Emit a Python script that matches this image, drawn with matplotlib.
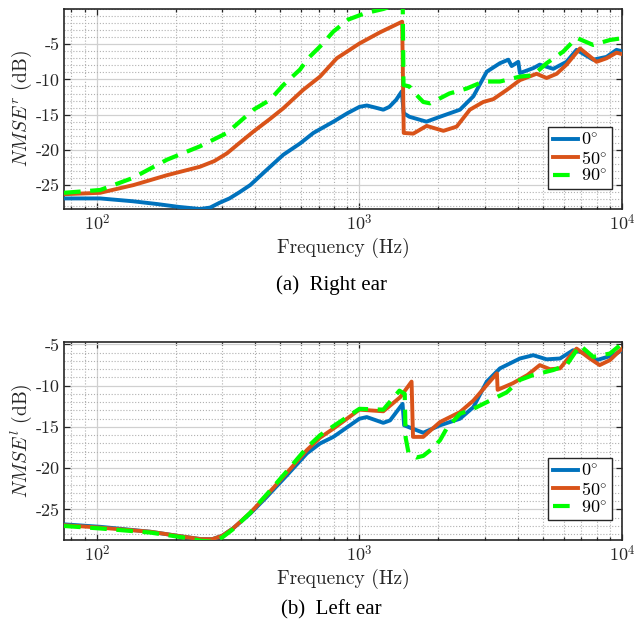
import matplotlib
matplotlib.use('Agg')
import matplotlib.pyplot as plt
import numpy as np

# ---- right ear (a) ----
f_r0 = [75, 103, 137, 170, 205, 247, 270, 294, 320, 350, 384, 445, 513, 594, 668, 796,
        900, 1000, 1067, 1150, 1233, 1300, 1380, 1450, 1475, 1550, 1800, 2028, 2415,
        2716, 3055, 3428, 3690, 3800, 4027, 4086, 4592, 4863, 5470, 6148, 6714, 7762,
        8730, 9530, 10000]
v_r0 = [-26.9, -26.9, -27.3, -27.7, -28.1, -28.4, -28.2, -27.5, -26.9, -26.0, -25.0,
        -22.8, -20.7, -19.1, -17.6, -16.0, -14.8, -13.9, -13.7, -14.0, -14.3, -13.9,
        -12.9, -11.7, -14.8, -15.3, -16.0, -15.3, -14.3, -12.4, -8.9, -7.7, -7.2, -8.1,
        -7.5, -9.1, -8.4, -7.9, -8.5, -7.5, -5.8, -7.2, -6.8, -5.8, -6.0]

f_r50 = [75, 103, 138, 185, 247, 280, 313, 350, 395, 457, 513, 610, 708, 820, 1000,
         1200, 1455, 1475, 1603, 1803, 2089, 2346, 2634, 2963, 3236, 3638, 4086, 4728,
         5164, 5640, 6148, 6918, 8000, 8730, 9530, 10000]
v_r50 = [-26.3, -26.1, -25.0, -23.6, -22.4, -21.6, -20.5, -19.0, -17.4, -15.6, -14.1,
         -11.5, -9.6, -7.0, -4.9, -3.3, -1.8, -17.6, -17.7, -16.6, -17.3, -16.7, -14.3,
         -13.2, -12.8, -11.5, -10.1, -9.2, -9.8, -9.2, -7.9, -5.6, -7.5, -7.0, -6.2, -6.4]

f_r90 = [75, 103, 137, 185, 247, 313, 395, 457, 513, 594, 638, 718, 796, 907, 1050,
         1233, 1350, 1462, 1472, 1550, 1650, 1750, 1860, 2000, 2200, 2560, 2963, 3428,
         4086, 4592, 5164, 5970, 6714, 7762, 8995, 10000]
v_r90 = [-26.1, -25.7, -24.0, -21.4, -19.5, -17.6, -14.3, -12.9, -10.8, -8.6, -7.0,
         -5.1, -3.2, -1.5, -0.6, 0.0, 0.5, 0.8, -10.8, -11.0, -12.2, -13.2, -13.4,
         -12.8, -12.0, -11.3, -10.3, -10.3, -9.6, -9.4, -7.7, -6.05, -4.1, -5.1, -4.4,
         -4.15]

# ---- left ear (b) ----
f_l0 = [75, 103, 160, 214, 250, 275, 300, 330, 384, 443, 528, 631, 708, 796, 1000,
        1067, 1233, 1309, 1460, 1480, 1750, 2028, 2415, 2716, 3055, 3428, 4086, 4592,
        5164, 5808, 6510, 7112, 8000, 9260, 10000]
v_l0 = [-26.8, -27.1, -27.7, -28.3, -28.6, -28.6, -28.2, -27.3, -25.5, -23.5, -20.9,
        -18.2, -17.0, -16.2, -14.0, -13.8, -14.5, -14.2, -12.2, -14.8, -15.7, -14.8,
        -14.0, -12.6, -9.5, -7.9, -6.7, -6.3, -6.8, -6.7, -5.7, -6.0, -6.9, -6.3, -5.7]

f_l50 = [75, 103, 160, 214, 250, 275, 300, 330, 384, 443, 528, 631, 708, 796, 1000,
         1233, 1429, 1580, 1600, 1750, 2028, 2415, 2716, 3340, 3360, 3840, 4365, 4863,
         5320, 5808, 6340, 6714, 7540, 8221, 8995, 10000]
v_l50 = [-26.9, -27.2, -27.7, -28.3, -28.6, -28.6, -28.2, -27.3, -25.4, -23.3, -20.6,
         -17.8, -16.3, -15.2, -12.9, -13.1, -11.4, -9.5, -16.2, -16.2, -14.4, -13.2,
         -11.8, -8.5, -10.5, -9.7, -8.7, -7.5, -8.0, -7.9, -6.4, -5.5, -6.7, -7.5, -6.9,
         -5.5]

f_l90 = [75, 103, 160, 214, 250, 275, 300, 330, 384, 443, 528, 631, 708, 796, 1000,
         1233, 1420, 1488, 1500, 1540, 1650, 1750, 1900, 2028, 2148, 2415, 2716, 3236,
         3638, 4086, 4592, 5470, 6148, 6918, 7762, 8995, 10000]
v_l90 = [-27.0, -27.3, -27.8, -28.4, -28.8, -28.9, -28.4, -27.4, -25.4, -23.2, -20.4,
         -17.5, -16.0, -14.9, -12.8, -12.9, -10.6, -11.0, -16.3, -18.2, -18.7, -18.5,
         -17.6, -16.6, -15.2, -13.4, -12.8, -11.6, -10.8, -9.3, -8.7, -8.1, -7.5, -5.1,
         -6.5, -6.1, -4.9]

labels = [r'$0^{\circ}$', r'$50^{\circ}$', r'$90^{\circ}$']
colors = ['#0072BD', '#D95319', '#00FF00']
y_major = [-25, -20, -15, -10, -5]
y_labels = ['-25', '-20', '-15', '-10', '-5']
x_major = [100, 1000, 10000]
x_labels = [r'$10^2$', r'$10^3$', r'$10^4$']

plt.rcParams['font.family'] = ['cmr10', 'DejaVu Serif']
plt.rcParams['mathtext.fontset'] = 'cm'
plt.rcParams['axes.unicode_minus'] = False
plt.rcParams['axes.formatter.use_mathtext'] = True

fig = plt.figure(figsize=(6.34, 6.27), dpi=100)
ax1 = fig.add_axes([64/634, 1-209/627, 558/634, 200/627])
ax2 = fig.add_axes([64/634, 1-540/627, 558/634, 198/627])


def draw(ax, data, ylim, ylab):
    for (f, v), c, lab in zip(data, colors, labels):
        if c == '#00FF00':
            ax.plot(f, v, color=c, lw=3.0, dashes=(4.0, 2.3), label=lab, zorder=5)
        else:
            ax.plot(f, v, color=c, lw=2.8, label=lab, zorder=4,
                    solid_joinstyle='round')
    ax.set_xscale('log')
    ax.set_xticks(x_major)
    ax.set_xticklabels(x_labels)
    minors = [k * 10**d for d in (1, 2, 3) for k in range(2, 10) if 75 <= k * 10**d <= 10000]
    ax.set_xticks(minors, minor=True)
    ax.set_xticklabels([], minor=True)
    ax.set_yticks(y_major)
    ax.set_yticklabels(y_labels)
    ax.set_yticks(np.arange(-29, 1, 1), minor=True)
    ax.set_xlim(75, 10000)
    ax.set_ylim(*ylim)
    ax.tick_params(which='both', direction='in', top=True, right=True,
                   labelsize=13, colors='#262626', width=0.9)
    ax.tick_params(which='major', length=4, pad=3)
    ax.tick_params(axis='x', which='minor', length=2.5)
    ax.tick_params(axis='y', which='minor', length=0)
    ax.grid(which='major', color='#d0d0d0', lw=0.9)
    ax.grid(which='minor', color='#b0b0b0', ls=':', lw=0.8)
    ax.set_axisbelow(True)
    for s in ax.spines.values():
        s.set_color('#262626')
        s.set_linewidth(1.2)
    ax.set_xlabel('Frequency (Hz)', fontsize=14, color='#262626', labelpad=3)
    ax.set_ylabel(ylab, fontsize=14, color='#262626', labelpad=1)
    leg = ax.legend(loc='lower right', bbox_to_anchor=(0.982, 0.1), borderaxespad=0,
                    fontsize=13, handlelength=1.4, handletextpad=0.15, labelspacing=0.08,
                    borderpad=0.25, fancybox=False, framealpha=1, edgecolor='#262626')
    leg.get_frame().set_linewidth(1.0)


draw(ax1, [(f_r0, v_r0), (f_r50, v_r50), (f_r90, v_r90)], (-28.4, 0), r'$NMSE^r$ (dB)')
draw(ax2, [(f_l0, v_l0), (f_l50, v_l50), (f_l90, v_l90)], (-28.7, -4.7), r'$NMSE^l$ (dB)')

fig.text(331/634, 1-285/627, '(a)  Right ear', family='Liberation Serif', fontsize=15,
         ha='center', va='center')
fig.text(331/634, 1-610/627, '(b)  Left ear', family='Liberation Serif', fontsize=15,
         ha='center', va='center')

fig.savefig('out.png', dpi=100)
